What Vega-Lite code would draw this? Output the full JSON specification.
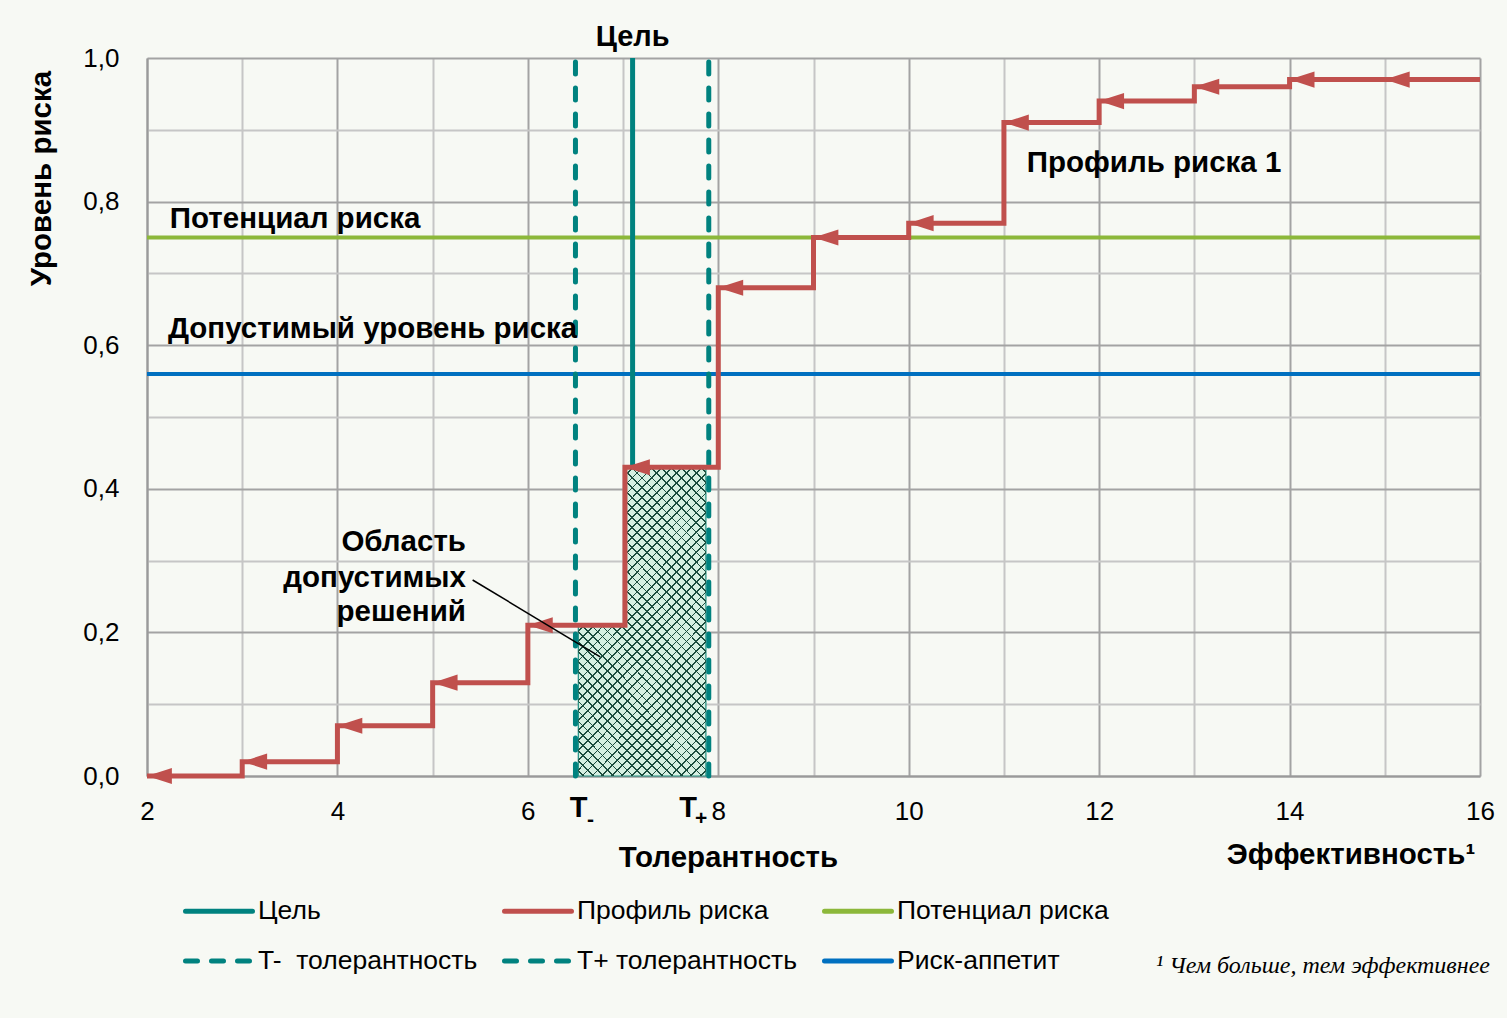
{
  "$schema": "https://vega.github.io/schema/vega-lite/v6.json",
  "width": 1333,
  "height": 718,
  "autosize": {"type": "none"},
  "padding": {"left": 147, "top": 58, "right": 27, "bottom": 242},
  "background": "#f7f9f4",
  "config": {"view": {"stroke": null}, "font": "Liberation Sans"},
  "layer": [
    {
      "data": {"values": [
        {"series": "Цель"},
        {"series": "Профиль риска"},
        {"series": "Потенциал риска"},
        {"series": "T-\u00a0 толерантность"},
        {"series": "T+ толерантность"},
        {"series": "Риск-аппетит"}
      ]},
      "mark": {"type": "line", "strokeWidth": 5},
      "encoding": {
        "color": {"field": "series", "type": "nominal", "scale": {"domain": ["Цель", "Профиль риска", "Потенциал риска", "T-\u00a0 толерантность", "T+ толерантность", "Риск-аппетит"], "range": ["#00827f", "#c0504d", "#8cb83a", "#00827f", "#00827f", "#0070c0"]},
          "legend": {"orient": "none", "legendX": 36, "legendY": 817, "columns": 3, "direction": "horizontal", "title": null,
            "symbolType": "stroke", "symbolSize": 4489, "symbolStrokeWidth": 5, "labelFontSize": 26.5, "labelFont": "Liberation Sans", "labelColor": "#000000",
            "labelOffset": 3, "rowPadding": -11, "columnPadding": 16, "padding": 0, "labelLimit": 400,
            "encode": {"symbols": {"update": {"strokeCap": {"value": "round"}}}}}},
        "strokeDash": {"field": "series", "type": "nominal", "scale": {"domain": ["Цель", "Профиль риска", "Потенциал риска", "T-\u00a0 толерантность", "T+ толерантность", "Риск-аппетит"], "range": [[1, 0], [1, 0], [1, 0], [12, 14], [12, 14], [1, 0]]},
          "legend": {"orient": "none", "legendX": 36, "legendY": 817, "columns": 3, "direction": "horizontal", "title": null,
            "symbolType": "stroke", "symbolSize": 4489, "symbolStrokeWidth": 5, "labelFontSize": 26.5, "labelFont": "Liberation Sans", "labelColor": "#000000",
            "labelOffset": 3, "rowPadding": -11, "columnPadding": 16, "padding": 0, "labelLimit": 400,
            "encode": {"symbols": {"update": {"strokeCap": {"value": "round"}}}}}}
      }
    },
    {
      "data": {"values": [{"y": 0.75}]},
      "mark": {"type": "rule", "strokeWidth": 4, "color": "#8cb83a"},
      "encoding": {
        "y": {"field": "y", "type": "quantitative", "scale": {"domain": [0, 1], "nice": false}}
      }
    },
    {
      "data": {"values": [{"y": 0.56}]},
      "mark": {"type": "rule", "strokeWidth": 4, "color": "#0070c0"},
      "encoding": {
        "y": {"field": "y", "type": "quantitative", "scale": {"domain": [0, 1], "nice": false}}
      }
    },
    {
      "data": {"values": [{"x": 7.1, "y": 0, "y2": 1}]},
      "mark": {"type": "rule", "strokeWidth": 5, "color": "#00827f"},
      "encoding": {
        "x": {"field": "x", "type": "quantitative", "scale": {"domain": [2, 16], "nice": false, "zero": false}},
        "y": {"field": "y", "type": "quantitative", "scale": {"domain": [0, 1], "nice": false}},
        "y2": {"field": "y2"}
      }
    },
    {
      "data": {"name": "hatch", "values": [
        {"x": 6.53, "y": 0.21},
        {"x": 7.02, "y": 0.43},
        {"x": 7.87, "y": 0.43}
      ]},
      "layer": [
        {
          "mark": {"type": "area", "interpolate": "step-after", "fill": "#d6f0e2", "stroke": "#1f8f80", "strokeWidth": 1.2, "opacity": 1},
          "encoding": {
            "x": {"field": "x", "type": "quantitative", "scale": {"domain": [2, 16], "nice": false, "zero": false}},
            "y": {"field": "y", "type": "quantitative", "scale": {"domain": [0, 1], "nice": false}}
          }
        },
        {
          "mark": {"type": "area", "interpolate": "step-after", "opacity": 1,
            "fill": {"gradient": "linear", "x1": 0, "y1": 0, "x2": 0.5, "y2": 1.205, "stops": [
{"offset":0,"color":"rgba(27,77,62,0)"},
{"offset":0.0100,"color":"rgba(27,77,62,0)"},{"offset":0.0100,"color":"rgba(27,77,62,1)"},{"offset":0.0140,"color":"rgba(27,77,62,1)"},{"offset":0.0140,"color":"rgba(27,77,62,0)"},
{"offset":0.0327,"color":"rgba(27,77,62,0)"},{"offset":0.0327,"color":"rgba(27,77,62,1)"},{"offset":0.0367,"color":"rgba(27,77,62,1)"},{"offset":0.0367,"color":"rgba(27,77,62,0)"},
{"offset":0.0555,"color":"rgba(27,77,62,0)"},{"offset":0.0555,"color":"rgba(27,77,62,1)"},{"offset":0.0595,"color":"rgba(27,77,62,1)"},{"offset":0.0595,"color":"rgba(27,77,62,0)"},
{"offset":0.0782,"color":"rgba(27,77,62,0)"},{"offset":0.0782,"color":"rgba(27,77,62,1)"},{"offset":0.0822,"color":"rgba(27,77,62,1)"},{"offset":0.0822,"color":"rgba(27,77,62,0)"},
{"offset":0.1009,"color":"rgba(27,77,62,0)"},{"offset":0.1009,"color":"rgba(27,77,62,1)"},{"offset":0.1049,"color":"rgba(27,77,62,1)"},{"offset":0.1049,"color":"rgba(27,77,62,0)"},
{"offset":0.1236,"color":"rgba(27,77,62,0)"},{"offset":0.1236,"color":"rgba(27,77,62,1)"},{"offset":0.1276,"color":"rgba(27,77,62,1)"},{"offset":0.1276,"color":"rgba(27,77,62,0)"},
{"offset":0.1464,"color":"rgba(27,77,62,0)"},{"offset":0.1464,"color":"rgba(27,77,62,1)"},{"offset":0.1504,"color":"rgba(27,77,62,1)"},{"offset":0.1504,"color":"rgba(27,77,62,0)"},
{"offset":0.1691,"color":"rgba(27,77,62,0)"},{"offset":0.1691,"color":"rgba(27,77,62,1)"},{"offset":0.1731,"color":"rgba(27,77,62,1)"},{"offset":0.1731,"color":"rgba(27,77,62,0)"},
{"offset":0.1918,"color":"rgba(27,77,62,0)"},{"offset":0.1918,"color":"rgba(27,77,62,1)"},{"offset":0.1958,"color":"rgba(27,77,62,1)"},{"offset":0.1958,"color":"rgba(27,77,62,0)"},
{"offset":0.2145,"color":"rgba(27,77,62,0)"},{"offset":0.2145,"color":"rgba(27,77,62,1)"},{"offset":0.2185,"color":"rgba(27,77,62,1)"},{"offset":0.2185,"color":"rgba(27,77,62,0)"},
{"offset":0.2373,"color":"rgba(27,77,62,0)"},{"offset":0.2373,"color":"rgba(27,77,62,1)"},{"offset":0.2413,"color":"rgba(27,77,62,1)"},{"offset":0.2413,"color":"rgba(27,77,62,0)"},
{"offset":0.2600,"color":"rgba(27,77,62,0)"},{"offset":0.2600,"color":"rgba(27,77,62,1)"},{"offset":0.2640,"color":"rgba(27,77,62,1)"},{"offset":0.2640,"color":"rgba(27,77,62,0)"},
{"offset":0.2827,"color":"rgba(27,77,62,0)"},{"offset":0.2827,"color":"rgba(27,77,62,1)"},{"offset":0.2867,"color":"rgba(27,77,62,1)"},{"offset":0.2867,"color":"rgba(27,77,62,0)"},
{"offset":0.3055,"color":"rgba(27,77,62,0)"},{"offset":0.3055,"color":"rgba(27,77,62,1)"},{"offset":0.3095,"color":"rgba(27,77,62,1)"},{"offset":0.3095,"color":"rgba(27,77,62,0)"},
{"offset":0.3282,"color":"rgba(27,77,62,0)"},{"offset":0.3282,"color":"rgba(27,77,62,1)"},{"offset":0.3322,"color":"rgba(27,77,62,1)"},{"offset":0.3322,"color":"rgba(27,77,62,0)"},
{"offset":0.3509,"color":"rgba(27,77,62,0)"},{"offset":0.3509,"color":"rgba(27,77,62,1)"},{"offset":0.3549,"color":"rgba(27,77,62,1)"},{"offset":0.3549,"color":"rgba(27,77,62,0)"},
{"offset":0.3736,"color":"rgba(27,77,62,0)"},{"offset":0.3736,"color":"rgba(27,77,62,1)"},{"offset":0.3776,"color":"rgba(27,77,62,1)"},{"offset":0.3776,"color":"rgba(27,77,62,0)"},
{"offset":0.3964,"color":"rgba(27,77,62,0)"},{"offset":0.3964,"color":"rgba(27,77,62,1)"},{"offset":0.4004,"color":"rgba(27,77,62,1)"},{"offset":0.4004,"color":"rgba(27,77,62,0)"},
{"offset":0.4191,"color":"rgba(27,77,62,0)"},{"offset":0.4191,"color":"rgba(27,77,62,1)"},{"offset":0.4231,"color":"rgba(27,77,62,1)"},{"offset":0.4231,"color":"rgba(27,77,62,0)"},
{"offset":0.4418,"color":"rgba(27,77,62,0)"},{"offset":0.4418,"color":"rgba(27,77,62,1)"},{"offset":0.4458,"color":"rgba(27,77,62,1)"},{"offset":0.4458,"color":"rgba(27,77,62,0)"},
{"offset":0.4645,"color":"rgba(27,77,62,0)"},{"offset":0.4645,"color":"rgba(27,77,62,1)"},{"offset":0.4685,"color":"rgba(27,77,62,1)"},{"offset":0.4685,"color":"rgba(27,77,62,0)"},
{"offset":0.4873,"color":"rgba(27,77,62,0)"},{"offset":0.4873,"color":"rgba(27,77,62,1)"},{"offset":0.4913,"color":"rgba(27,77,62,1)"},{"offset":0.4913,"color":"rgba(27,77,62,0)"},
{"offset":0.5100,"color":"rgba(27,77,62,0)"},{"offset":0.5100,"color":"rgba(27,77,62,1)"},{"offset":0.5140,"color":"rgba(27,77,62,1)"},{"offset":0.5140,"color":"rgba(27,77,62,0)"},
{"offset":0.5327,"color":"rgba(27,77,62,0)"},{"offset":0.5327,"color":"rgba(27,77,62,1)"},{"offset":0.5367,"color":"rgba(27,77,62,1)"},{"offset":0.5367,"color":"rgba(27,77,62,0)"},
{"offset":0.5555,"color":"rgba(27,77,62,0)"},{"offset":0.5555,"color":"rgba(27,77,62,1)"},{"offset":0.5595,"color":"rgba(27,77,62,1)"},{"offset":0.5595,"color":"rgba(27,77,62,0)"},
{"offset":0.5782,"color":"rgba(27,77,62,0)"},{"offset":0.5782,"color":"rgba(27,77,62,1)"},{"offset":0.5822,"color":"rgba(27,77,62,1)"},{"offset":0.5822,"color":"rgba(27,77,62,0)"},
{"offset":0.6009,"color":"rgba(27,77,62,0)"},{"offset":0.6009,"color":"rgba(27,77,62,1)"},{"offset":0.6049,"color":"rgba(27,77,62,1)"},{"offset":0.6049,"color":"rgba(27,77,62,0)"},
{"offset":0.6236,"color":"rgba(27,77,62,0)"},{"offset":0.6236,"color":"rgba(27,77,62,1)"},{"offset":0.6276,"color":"rgba(27,77,62,1)"},{"offset":0.6276,"color":"rgba(27,77,62,0)"},
{"offset":0.6464,"color":"rgba(27,77,62,0)"},{"offset":0.6464,"color":"rgba(27,77,62,1)"},{"offset":0.6504,"color":"rgba(27,77,62,1)"},{"offset":0.6504,"color":"rgba(27,77,62,0)"},
{"offset":0.6691,"color":"rgba(27,77,62,0)"},{"offset":0.6691,"color":"rgba(27,77,62,1)"},{"offset":0.6731,"color":"rgba(27,77,62,1)"},{"offset":0.6731,"color":"rgba(27,77,62,0)"},
{"offset":0.6918,"color":"rgba(27,77,62,0)"},{"offset":0.6918,"color":"rgba(27,77,62,1)"},{"offset":0.6958,"color":"rgba(27,77,62,1)"},{"offset":0.6958,"color":"rgba(27,77,62,0)"},
{"offset":0.7145,"color":"rgba(27,77,62,0)"},{"offset":0.7145,"color":"rgba(27,77,62,1)"},{"offset":0.7185,"color":"rgba(27,77,62,1)"},{"offset":0.7185,"color":"rgba(27,77,62,0)"},
{"offset":0.7373,"color":"rgba(27,77,62,0)"},{"offset":0.7373,"color":"rgba(27,77,62,1)"},{"offset":0.7413,"color":"rgba(27,77,62,1)"},{"offset":0.7413,"color":"rgba(27,77,62,0)"},
{"offset":0.7600,"color":"rgba(27,77,62,0)"},{"offset":0.7600,"color":"rgba(27,77,62,1)"},{"offset":0.7640,"color":"rgba(27,77,62,1)"},{"offset":0.7640,"color":"rgba(27,77,62,0)"},
{"offset":0.7827,"color":"rgba(27,77,62,0)"},{"offset":0.7827,"color":"rgba(27,77,62,1)"},{"offset":0.7867,"color":"rgba(27,77,62,1)"},{"offset":0.7867,"color":"rgba(27,77,62,0)"},
{"offset":0.8055,"color":"rgba(27,77,62,0)"},{"offset":0.8055,"color":"rgba(27,77,62,1)"},{"offset":0.8095,"color":"rgba(27,77,62,1)"},{"offset":0.8095,"color":"rgba(27,77,62,0)"},
{"offset":0.8282,"color":"rgba(27,77,62,0)"},{"offset":0.8282,"color":"rgba(27,77,62,1)"},{"offset":0.8322,"color":"rgba(27,77,62,1)"},{"offset":0.8322,"color":"rgba(27,77,62,0)"},
{"offset":0.8509,"color":"rgba(27,77,62,0)"},{"offset":0.8509,"color":"rgba(27,77,62,1)"},{"offset":0.8549,"color":"rgba(27,77,62,1)"},{"offset":0.8549,"color":"rgba(27,77,62,0)"},
{"offset":0.8736,"color":"rgba(27,77,62,0)"},{"offset":0.8736,"color":"rgba(27,77,62,1)"},{"offset":0.8776,"color":"rgba(27,77,62,1)"},{"offset":0.8776,"color":"rgba(27,77,62,0)"},
{"offset":0.8964,"color":"rgba(27,77,62,0)"},{"offset":0.8964,"color":"rgba(27,77,62,1)"},{"offset":0.9004,"color":"rgba(27,77,62,1)"},{"offset":0.9004,"color":"rgba(27,77,62,0)"},
{"offset":0.9191,"color":"rgba(27,77,62,0)"},{"offset":0.9191,"color":"rgba(27,77,62,1)"},{"offset":0.9231,"color":"rgba(27,77,62,1)"},{"offset":0.9231,"color":"rgba(27,77,62,0)"},
{"offset":0.9418,"color":"rgba(27,77,62,0)"},{"offset":0.9418,"color":"rgba(27,77,62,1)"},{"offset":0.9458,"color":"rgba(27,77,62,1)"},{"offset":0.9458,"color":"rgba(27,77,62,0)"},
{"offset":0.9645,"color":"rgba(27,77,62,0)"},{"offset":0.9645,"color":"rgba(27,77,62,1)"},{"offset":0.9685,"color":"rgba(27,77,62,1)"},{"offset":0.9685,"color":"rgba(27,77,62,0)"},
{"offset":0.9873,"color":"rgba(27,77,62,0)"},{"offset":0.9873,"color":"rgba(27,77,62,1)"},{"offset":0.9913,"color":"rgba(27,77,62,1)"},{"offset":0.9913,"color":"rgba(27,77,62,0)"},
{"offset":1,"color":"rgba(27,77,62,0)"}
            ]}},
          "encoding": {
            "x": {"field": "x", "type": "quantitative", "scale": {"domain": [2, 16], "nice": false, "zero": false}},
            "y": {"field": "y", "type": "quantitative", "scale": {"domain": [0, 1], "nice": false}}
          }
        },
        {
          "mark": {"type": "area", "interpolate": "step-after", "opacity": 1,
            "fill": {"gradient": "linear", "x1": 0, "y1": 1, "x2": 0.5, "y2": -0.205, "stops": [
{"offset":0,"color":"rgba(27,77,62,0)"},
{"offset":0.0100,"color":"rgba(27,77,62,0)"},{"offset":0.0100,"color":"rgba(27,77,62,1)"},{"offset":0.0140,"color":"rgba(27,77,62,1)"},{"offset":0.0140,"color":"rgba(27,77,62,0)"},
{"offset":0.0327,"color":"rgba(27,77,62,0)"},{"offset":0.0327,"color":"rgba(27,77,62,1)"},{"offset":0.0367,"color":"rgba(27,77,62,1)"},{"offset":0.0367,"color":"rgba(27,77,62,0)"},
{"offset":0.0555,"color":"rgba(27,77,62,0)"},{"offset":0.0555,"color":"rgba(27,77,62,1)"},{"offset":0.0595,"color":"rgba(27,77,62,1)"},{"offset":0.0595,"color":"rgba(27,77,62,0)"},
{"offset":0.0782,"color":"rgba(27,77,62,0)"},{"offset":0.0782,"color":"rgba(27,77,62,1)"},{"offset":0.0822,"color":"rgba(27,77,62,1)"},{"offset":0.0822,"color":"rgba(27,77,62,0)"},
{"offset":0.1009,"color":"rgba(27,77,62,0)"},{"offset":0.1009,"color":"rgba(27,77,62,1)"},{"offset":0.1049,"color":"rgba(27,77,62,1)"},{"offset":0.1049,"color":"rgba(27,77,62,0)"},
{"offset":0.1236,"color":"rgba(27,77,62,0)"},{"offset":0.1236,"color":"rgba(27,77,62,1)"},{"offset":0.1276,"color":"rgba(27,77,62,1)"},{"offset":0.1276,"color":"rgba(27,77,62,0)"},
{"offset":0.1464,"color":"rgba(27,77,62,0)"},{"offset":0.1464,"color":"rgba(27,77,62,1)"},{"offset":0.1504,"color":"rgba(27,77,62,1)"},{"offset":0.1504,"color":"rgba(27,77,62,0)"},
{"offset":0.1691,"color":"rgba(27,77,62,0)"},{"offset":0.1691,"color":"rgba(27,77,62,1)"},{"offset":0.1731,"color":"rgba(27,77,62,1)"},{"offset":0.1731,"color":"rgba(27,77,62,0)"},
{"offset":0.1918,"color":"rgba(27,77,62,0)"},{"offset":0.1918,"color":"rgba(27,77,62,1)"},{"offset":0.1958,"color":"rgba(27,77,62,1)"},{"offset":0.1958,"color":"rgba(27,77,62,0)"},
{"offset":0.2145,"color":"rgba(27,77,62,0)"},{"offset":0.2145,"color":"rgba(27,77,62,1)"},{"offset":0.2185,"color":"rgba(27,77,62,1)"},{"offset":0.2185,"color":"rgba(27,77,62,0)"},
{"offset":0.2373,"color":"rgba(27,77,62,0)"},{"offset":0.2373,"color":"rgba(27,77,62,1)"},{"offset":0.2413,"color":"rgba(27,77,62,1)"},{"offset":0.2413,"color":"rgba(27,77,62,0)"},
{"offset":0.2600,"color":"rgba(27,77,62,0)"},{"offset":0.2600,"color":"rgba(27,77,62,1)"},{"offset":0.2640,"color":"rgba(27,77,62,1)"},{"offset":0.2640,"color":"rgba(27,77,62,0)"},
{"offset":0.2827,"color":"rgba(27,77,62,0)"},{"offset":0.2827,"color":"rgba(27,77,62,1)"},{"offset":0.2867,"color":"rgba(27,77,62,1)"},{"offset":0.2867,"color":"rgba(27,77,62,0)"},
{"offset":0.3055,"color":"rgba(27,77,62,0)"},{"offset":0.3055,"color":"rgba(27,77,62,1)"},{"offset":0.3095,"color":"rgba(27,77,62,1)"},{"offset":0.3095,"color":"rgba(27,77,62,0)"},
{"offset":0.3282,"color":"rgba(27,77,62,0)"},{"offset":0.3282,"color":"rgba(27,77,62,1)"},{"offset":0.3322,"color":"rgba(27,77,62,1)"},{"offset":0.3322,"color":"rgba(27,77,62,0)"},
{"offset":0.3509,"color":"rgba(27,77,62,0)"},{"offset":0.3509,"color":"rgba(27,77,62,1)"},{"offset":0.3549,"color":"rgba(27,77,62,1)"},{"offset":0.3549,"color":"rgba(27,77,62,0)"},
{"offset":0.3736,"color":"rgba(27,77,62,0)"},{"offset":0.3736,"color":"rgba(27,77,62,1)"},{"offset":0.3776,"color":"rgba(27,77,62,1)"},{"offset":0.3776,"color":"rgba(27,77,62,0)"},
{"offset":0.3964,"color":"rgba(27,77,62,0)"},{"offset":0.3964,"color":"rgba(27,77,62,1)"},{"offset":0.4004,"color":"rgba(27,77,62,1)"},{"offset":0.4004,"color":"rgba(27,77,62,0)"},
{"offset":0.4191,"color":"rgba(27,77,62,0)"},{"offset":0.4191,"color":"rgba(27,77,62,1)"},{"offset":0.4231,"color":"rgba(27,77,62,1)"},{"offset":0.4231,"color":"rgba(27,77,62,0)"},
{"offset":0.4418,"color":"rgba(27,77,62,0)"},{"offset":0.4418,"color":"rgba(27,77,62,1)"},{"offset":0.4458,"color":"rgba(27,77,62,1)"},{"offset":0.4458,"color":"rgba(27,77,62,0)"},
{"offset":0.4645,"color":"rgba(27,77,62,0)"},{"offset":0.4645,"color":"rgba(27,77,62,1)"},{"offset":0.4685,"color":"rgba(27,77,62,1)"},{"offset":0.4685,"color":"rgba(27,77,62,0)"},
{"offset":0.4873,"color":"rgba(27,77,62,0)"},{"offset":0.4873,"color":"rgba(27,77,62,1)"},{"offset":0.4913,"color":"rgba(27,77,62,1)"},{"offset":0.4913,"color":"rgba(27,77,62,0)"},
{"offset":0.5100,"color":"rgba(27,77,62,0)"},{"offset":0.5100,"color":"rgba(27,77,62,1)"},{"offset":0.5140,"color":"rgba(27,77,62,1)"},{"offset":0.5140,"color":"rgba(27,77,62,0)"},
{"offset":0.5327,"color":"rgba(27,77,62,0)"},{"offset":0.5327,"color":"rgba(27,77,62,1)"},{"offset":0.5367,"color":"rgba(27,77,62,1)"},{"offset":0.5367,"color":"rgba(27,77,62,0)"},
{"offset":0.5555,"color":"rgba(27,77,62,0)"},{"offset":0.5555,"color":"rgba(27,77,62,1)"},{"offset":0.5595,"color":"rgba(27,77,62,1)"},{"offset":0.5595,"color":"rgba(27,77,62,0)"},
{"offset":0.5782,"color":"rgba(27,77,62,0)"},{"offset":0.5782,"color":"rgba(27,77,62,1)"},{"offset":0.5822,"color":"rgba(27,77,62,1)"},{"offset":0.5822,"color":"rgba(27,77,62,0)"},
{"offset":0.6009,"color":"rgba(27,77,62,0)"},{"offset":0.6009,"color":"rgba(27,77,62,1)"},{"offset":0.6049,"color":"rgba(27,77,62,1)"},{"offset":0.6049,"color":"rgba(27,77,62,0)"},
{"offset":0.6236,"color":"rgba(27,77,62,0)"},{"offset":0.6236,"color":"rgba(27,77,62,1)"},{"offset":0.6276,"color":"rgba(27,77,62,1)"},{"offset":0.6276,"color":"rgba(27,77,62,0)"},
{"offset":0.6464,"color":"rgba(27,77,62,0)"},{"offset":0.6464,"color":"rgba(27,77,62,1)"},{"offset":0.6504,"color":"rgba(27,77,62,1)"},{"offset":0.6504,"color":"rgba(27,77,62,0)"},
{"offset":0.6691,"color":"rgba(27,77,62,0)"},{"offset":0.6691,"color":"rgba(27,77,62,1)"},{"offset":0.6731,"color":"rgba(27,77,62,1)"},{"offset":0.6731,"color":"rgba(27,77,62,0)"},
{"offset":0.6918,"color":"rgba(27,77,62,0)"},{"offset":0.6918,"color":"rgba(27,77,62,1)"},{"offset":0.6958,"color":"rgba(27,77,62,1)"},{"offset":0.6958,"color":"rgba(27,77,62,0)"},
{"offset":0.7145,"color":"rgba(27,77,62,0)"},{"offset":0.7145,"color":"rgba(27,77,62,1)"},{"offset":0.7185,"color":"rgba(27,77,62,1)"},{"offset":0.7185,"color":"rgba(27,77,62,0)"},
{"offset":0.7373,"color":"rgba(27,77,62,0)"},{"offset":0.7373,"color":"rgba(27,77,62,1)"},{"offset":0.7413,"color":"rgba(27,77,62,1)"},{"offset":0.7413,"color":"rgba(27,77,62,0)"},
{"offset":0.7600,"color":"rgba(27,77,62,0)"},{"offset":0.7600,"color":"rgba(27,77,62,1)"},{"offset":0.7640,"color":"rgba(27,77,62,1)"},{"offset":0.7640,"color":"rgba(27,77,62,0)"},
{"offset":0.7827,"color":"rgba(27,77,62,0)"},{"offset":0.7827,"color":"rgba(27,77,62,1)"},{"offset":0.7867,"color":"rgba(27,77,62,1)"},{"offset":0.7867,"color":"rgba(27,77,62,0)"},
{"offset":0.8055,"color":"rgba(27,77,62,0)"},{"offset":0.8055,"color":"rgba(27,77,62,1)"},{"offset":0.8095,"color":"rgba(27,77,62,1)"},{"offset":0.8095,"color":"rgba(27,77,62,0)"},
{"offset":0.8282,"color":"rgba(27,77,62,0)"},{"offset":0.8282,"color":"rgba(27,77,62,1)"},{"offset":0.8322,"color":"rgba(27,77,62,1)"},{"offset":0.8322,"color":"rgba(27,77,62,0)"},
{"offset":0.8509,"color":"rgba(27,77,62,0)"},{"offset":0.8509,"color":"rgba(27,77,62,1)"},{"offset":0.8549,"color":"rgba(27,77,62,1)"},{"offset":0.8549,"color":"rgba(27,77,62,0)"},
{"offset":0.8736,"color":"rgba(27,77,62,0)"},{"offset":0.8736,"color":"rgba(27,77,62,1)"},{"offset":0.8776,"color":"rgba(27,77,62,1)"},{"offset":0.8776,"color":"rgba(27,77,62,0)"},
{"offset":0.8964,"color":"rgba(27,77,62,0)"},{"offset":0.8964,"color":"rgba(27,77,62,1)"},{"offset":0.9004,"color":"rgba(27,77,62,1)"},{"offset":0.9004,"color":"rgba(27,77,62,0)"},
{"offset":0.9191,"color":"rgba(27,77,62,0)"},{"offset":0.9191,"color":"rgba(27,77,62,1)"},{"offset":0.9231,"color":"rgba(27,77,62,1)"},{"offset":0.9231,"color":"rgba(27,77,62,0)"},
{"offset":0.9418,"color":"rgba(27,77,62,0)"},{"offset":0.9418,"color":"rgba(27,77,62,1)"},{"offset":0.9458,"color":"rgba(27,77,62,1)"},{"offset":0.9458,"color":"rgba(27,77,62,0)"},
{"offset":0.9645,"color":"rgba(27,77,62,0)"},{"offset":0.9645,"color":"rgba(27,77,62,1)"},{"offset":0.9685,"color":"rgba(27,77,62,1)"},{"offset":0.9685,"color":"rgba(27,77,62,0)"},
{"offset":0.9873,"color":"rgba(27,77,62,0)"},{"offset":0.9873,"color":"rgba(27,77,62,1)"},{"offset":0.9913,"color":"rgba(27,77,62,1)"},{"offset":0.9913,"color":"rgba(27,77,62,0)"},
{"offset":1,"color":"rgba(27,77,62,0)"}
            ]}},
          "encoding": {
            "x": {"field": "x", "type": "quantitative", "scale": {"domain": [2, 16], "nice": false, "zero": false}},
            "y": {"field": "y", "type": "quantitative", "scale": {"domain": [0, 1], "nice": false}}
          }
        }
      ]
    },
    {
      "data": {"values": [
        {"x": 6.5, "y": 0, "y2": 1},
        {"x": 7.9, "y": 0, "y2": 1}
      ]},
      "mark": {"type": "rule", "strokeWidth": 5, "strokeCap": "round", "strokeDash": [12, 14], "color": "#00827f"},
      "encoding": {
        "x": {"field": "x", "type": "quantitative", "scale": {"domain": [2, 16], "nice": false, "zero": false}},
        "y": {"field": "y", "type": "quantitative", "scale": {"domain": [0, 1], "nice": false}},
        "y2": {"field": "y2"}
      }
    },
    {
      "data": {"values": [
        {"x": 2, "y": 0},
        {"x": 3, "y": 0.02},
        {"x": 4, "y": 0.07},
        {"x": 5, "y": 0.13},
        {"x": 6, "y": 0.21},
        {"x": 7.02, "y": 0.43},
        {"x": 8, "y": 0.68},
        {"x": 9, "y": 0.75},
        {"x": 10, "y": 0.77},
        {"x": 11, "y": 0.91},
        {"x": 12, "y": 0.94},
        {"x": 13, "y": 0.96},
        {"x": 14, "y": 0.97},
        {"x": 16, "y": 0.97}
      ]},
      "mark": {"type": "line", "interpolate": "step-after", "strokeWidth": 5, "strokeJoin": "miter", "strokeCap": "butt", "color": "#c0504d"},
      "encoding": {
        "x": {"field": "x", "type": "quantitative", "scale": {"domain": [2, 16], "nice": false, "zero": false},
          "axis": {"values": [2, 3, 4, 5, 6, 7, 8, 9, 10, 11, 12, 13, 14, 15, 16],
            "labelExpr": "datum.value % 2 == 0 ? format(datum.value, 'd') : ''",
            "grid": true, "gridColor": {"condition": {"test": "datum.value % 2 == 0", "value": "#a3a3a3"}, "value": "#c6c6c6"},
            "gridWidth": 2, "ticks": false, "domainColor": "#9a9a9a", "domainWidth": 2,
            "labelFontSize": 26, "labelColor": "#000000", "labelFont": "Liberation Sans", "labelPadding": 22,
            "labelFlush": false, "labelOverlap": false,
            "title": "Толерантность", "titleFontSize": 29.5, "titleFontWeight": "bold", "titleColor": "#000000", "titleFont": "Liberation Sans",
            "titleX": 581, "titleY": 81, "titleBaseline": "middle", "titleAlign": "center"}},
        "y": {"field": "y", "type": "quantitative", "scale": {"domain": [0, 1], "nice": false},
          "axis": {"values": [0, 0.1, 0.2, 0.3, 0.4, 0.5, 0.6, 0.7, 0.8, 0.9, 1],
            "labelExpr": "round(datum.value*10) % 2 == 0 ? replace(format(datum.value, '.1f'), '.', ',') : ''",
            "grid": true, "gridColor": {"condition": {"test": "round(datum.value*10) % 2 == 0", "value": "#a3a3a3"}, "value": "#c6c6c6"},
            "gridWidth": 2, "ticks": false, "domainColor": "#9a9a9a", "domainWidth": 2,
            "labelFontSize": 26, "labelColor": "#000000", "labelFont": "Liberation Sans", "labelPadding": 28,
            "labelFlush": false, "labelOverlap": false,
            "title": "Уровень риска", "titleFontSize": 29.5, "titleFontWeight": "bold", "titleColor": "#000000", "titleFont": "Liberation Sans",
            "titleX": -106, "titleY": 120, "titleBaseline": "middle", "titleAlign": "center", "titleAngle": -90}}
      }
    },
    {
      "data": {"values": [
        {"x": 2, "y": 0}, {"x": 3, "y": 0.02}, {"x": 4, "y": 0.07}, {"x": 5, "y": 0.13},
        {"x": 6, "y": 0.21}, {"x": 7.02, "y": 0.43}, {"x": 8, "y": 0.68}, {"x": 9, "y": 0.75},
        {"x": 10, "y": 0.77}, {"x": 11, "y": 0.91}, {"x": 12, "y": 0.94}, {"x": 13, "y": 0.96},
        {"x": 14, "y": 0.97}, {"x": 15, "y": 0.97}
      ]},
      "mark": {"type": "point", "shape": "M0,0L2,-0.65L2,0.65Z", "filled": true, "color": "#c0504d", "size": 620, "opacity": 1, "strokeWidth": 0},
      "encoding": {
        "x": {"field": "x", "type": "quantitative", "scale": {"domain": [2, 16], "nice": false, "zero": false}},
        "y": {"field": "y", "type": "quantitative", "scale": {"domain": [0, 1], "nice": false}}
      }
    },
    {
      "data": {"values": [
        {"x": 5.42, "y": 0.273},
        {"x": 6.76, "y": 0.166}
      ]},
      "mark": {"type": "line", "color": "#000000", "strokeWidth": 1.5},
      "encoding": {
        "x": {"field": "x", "type": "quantitative", "scale": {"domain": [2, 16], "nice": false, "zero": false}},
        "y": {"field": "y", "type": "quantitative", "scale": {"domain": [0, 1], "nice": false}}
      }
    },
    {
      "data": {"values": [
        {"t": "Потенциал риска", "x": 2.24, "y": 0.776},
        {"t": "Допустимый уровень риска", "x": 2.22, "y": 0.6226},
        {"t": "Профиль риска 1", "x": 11.24, "y": 0.854}
      ]},
      "mark": {"type": "text", "align": "left", "baseline": "middle", "fontSize": 29.5, "fontWeight": "bold", "font": "Liberation Sans", "color": "#000000"},
      "encoding": {
        "x": {"field": "x", "type": "quantitative", "scale": {"domain": [2, 16], "nice": false, "zero": false}},
        "y": {"field": "y", "type": "quantitative", "scale": {"domain": [0, 1], "nice": false}},
        "text": {"field": "t"}
      }
    },
    {
      "data": {"values": [
        {"t": "Цель", "x": 7.1, "y": 1.029},
        {"t": "T", "x": 6.532, "y": -0.0446},
        {"t": "T", "x": 7.682, "y": -0.0446}
      ]},
      "mark": {"type": "text", "align": "center", "baseline": "middle", "fontSize": 29, "fontWeight": "bold", "font": "Liberation Sans", "color": "#000000"},
      "encoding": {
        "x": {"field": "x", "type": "quantitative", "scale": {"domain": [2, 16], "nice": false, "zero": false}},
        "y": {"field": "y", "type": "quantitative", "scale": {"domain": [0, 1], "nice": false}},
        "text": {"field": "t"}
      }
    },
    {
      "data": {"values": [
        {"t": "-", "x": 6.658, "y": -0.0613},
        {"t": "+", "x": 7.819, "y": -0.0599}
      ]},
      "mark": {"type": "text", "align": "center", "baseline": "middle", "fontSize": 21, "fontWeight": "bold", "font": "Liberation Sans", "color": "#000000"},
      "encoding": {
        "x": {"field": "x", "type": "quantitative", "scale": {"domain": [2, 16], "nice": false, "zero": false}},
        "y": {"field": "y", "type": "quantitative", "scale": {"domain": [0, 1], "nice": false}},
        "text": {"field": "t"}
      }
    },
    {
      "data": {"values": [
        {"t": "Область", "x": 5.35, "y": 0.326},
        {"t": "допустимых", "x": 5.35, "y": 0.276},
        {"t": "решений", "x": 5.35, "y": 0.228},
        {"t": "Эффективность¹", "x": 15.95, "y": -0.11}
      ]},
      "mark": {"type": "text", "align": "right", "baseline": "middle", "fontSize": 29.5, "fontWeight": "bold", "font": "Liberation Sans", "color": "#000000"},
      "encoding": {
        "x": {"field": "x", "type": "quantitative", "scale": {"domain": [2, 16], "nice": false, "zero": false}},
        "y": {"field": "y", "type": "quantitative", "scale": {"domain": [0, 1], "nice": false}},
        "text": {"field": "t"}
      }
    },
    {
      "data": {"values": [
        {"t": "¹ Чем больше, тем эффективнее", "x": 16.105, "y": -0.2646}
      ]},
      "mark": {"type": "text", "align": "right", "baseline": "middle", "fontSize": 24, "fontStyle": "italic", "font": "Liberation Serif", "color": "#000000"},
      "encoding": {
        "x": {"field": "x", "type": "quantitative", "scale": {"domain": [2, 16], "nice": false, "zero": false}},
        "y": {"field": "y", "type": "quantitative", "scale": {"domain": [0, 1], "nice": false}},
        "text": {"field": "t"}
      }
    }
  ]
}
